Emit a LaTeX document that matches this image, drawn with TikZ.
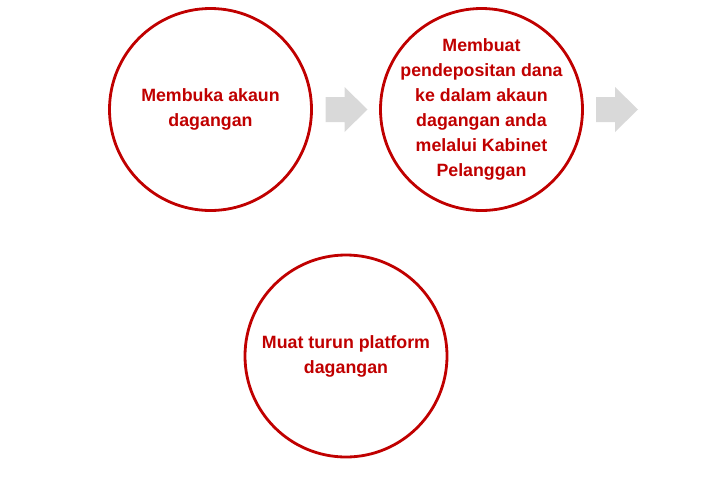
\documentclass[tikz,border=0pt]{standalone}
\usepackage{fontspec}
\setmainfont{Liberation Sans}
\usetikzlibrary{positioning}
\definecolor{stepred}{RGB}{192,0,0}
\definecolor{arrowgray}{RGB}{217,217,217}
\tikzset{Step style/.style={circle, draw=stepred, line width=2.8pt, minimum size=202pt, inner sep=-12pt,
		align=center, text=stepred, font=\fontsize{17.8pt}{25pt}\selectfont\bfseries}}
\tikzset{
	node distance=271pt, % Distancia entre centros
	Block arrow/.pic={\fill[arrowgray] (-21pt,-12.5pt) -- (-2pt,-12.5pt) -- (-2pt,-22.5pt) -- (21pt,0pt)
		-- (-2pt,22.5pt) -- (-2pt,12.5pt) -- (-21pt,12.5pt) -- cycle;},
}
\begin{document}
\begin{tikzpicture}
        \useasboundingbox (0,0) rectangle (718pt,-480pt);
        \node[Step style] (open_account) at (210.5pt,-109.5pt) {Membuka akaun\\dagangan};
        \node[Step style, on grid, right=of open_account] (deposit) {Membuat\\pendepositan dana\\ke dalam akaun\\dagangan anda\\melalui Kabinet\\Pelanggan};
        \node[Step style, on grid, below right=246.5pt and 135.5pt of open_account] (download) {Muat turun platform\\dagangan};
        
        \path (open_account) -- (deposit) coordinate[midway] (arrow_one);
        \path (deposit.center) ++(135.5pt,0) coordinate (arrow_two);
        \pic at ([xshift=0.5pt]arrow_one) {Block arrow};
        \pic at (arrow_two) {Block arrow};
\end{tikzpicture}
\end{document}
